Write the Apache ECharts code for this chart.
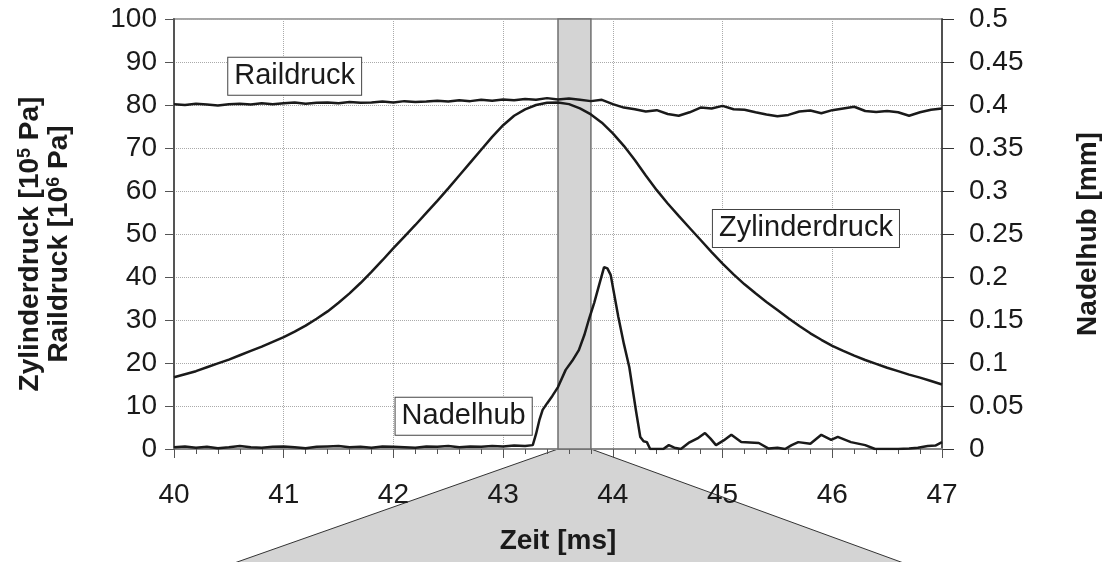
<!DOCTYPE html>
<html><head><meta charset="utf-8">
<script src="https://cdn.jsdelivr.net/npm/echarts@6/dist/echarts.min.js"></script>
<style>html,body{margin:0;padding:0;background:#fff}#c{width:1110px;height:562px}</style>
</head><body><div id="c"></div>
<script>
// ---- data ----
const sampleTime = [40.0,40.1,40.2,40.3,40.4,40.5,40.6,40.7,40.8,40.9,
  41.0,41.1,41.2,41.3,41.4,41.5,41.6,41.7,41.8,41.9,
  42.0,42.1,42.2,42.3,42.4,42.5,42.6,42.7,42.8,42.9,
  43.0,43.1,43.2,43.3,43.4,43.5,43.6,43.7,43.8,43.9,
  44.0,44.1,44.2,44.3,44.4,44.5,44.6,44.7,44.8,44.9,
  45.0,45.1,45.2,45.3,45.4,45.5,45.6,45.7,45.8,45.9,
  46.0,46.1,46.2,46.3,46.4,46.5,46.6,46.7,46.8,46.9,47.0];
const raildruck = [80.2,80.0,80.3,80.1,79.9,80.2,80.3,80.1,80.4,80.2,
  80.4,80.6,80.3,80.5,80.6,80.4,80.7,80.5,80.6,80.8,
  80.6,80.9,80.7,80.8,81.0,80.8,81.1,80.9,81.2,81.0,
  81.3,81.1,81.4,81.2,81.6,81.3,81.5,81.2,80.9,81.2,
  80.2,79.4,79.0,78.5,78.8,77.9,77.5,78.3,79.4,79.2,
  79.8,79.0,78.9,78.3,77.8,77.4,77.7,78.5,78.7,78.1,
  78.8,79.2,79.6,78.6,78.4,78.6,78.3,77.5,78.3,78.9,79.2];
const zylinderdruck = [16.7,17.4,18.1,19.0,19.9,20.8,21.8,22.8,23.8,24.9,
  26.0,27.3,28.7,30.3,32.0,34.0,36.2,38.6,41.2,43.9,
  46.7,49.4,52.1,54.9,57.7,60.6,63.6,66.6,69.6,72.6,
  75.3,77.5,79.0,80.0,80.5,80.6,80.2,79.2,77.8,75.9,
  73.4,70.5,67.2,63.6,60.2,57.1,54.2,51.4,48.6,45.8,
  43.1,40.6,38.3,36.2,34.2,32.3,30.4,28.6,26.9,25.4,
  24.0,22.8,21.7,20.7,19.8,18.9,18.1,17.3,16.6,15.8,15.0];
const nadelTime = [40.0,40.1,40.2,40.3,40.4,40.5,40.6,40.7,40.8,40.9,
  41.0,41.1,41.2,41.3,41.4,41.5,41.6,41.7,41.8,41.9,
  42.0,42.1,42.2,42.3,42.4,42.5,42.6,42.7,42.8,42.9,
  43.0,43.1,43.2,43.27,43.30,43.33,43.36,43.40,43.45,43.50,
  43.57,43.63,43.69,43.74,43.78,43.83,43.87,43.92,43.95,43.98,
  44.05,44.10,44.15,44.21,44.25,44.28,44.31,44.34,44.40,44.46,
  44.51,44.56,44.62,44.69,44.78,44.84,44.89,44.94,45.01,45.08,
  45.17,45.25,45.33,45.42,45.50,45.57,45.63,45.69,45.80,45.90,
  45.99,46.05,46.17,46.30,46.39,46.50,46.60,46.70,46.78,46.87,46.94,47.0];
const nadelhub = [0.002,0.003,0.0015,0.0025,0.001,0.002,0.0035,0.002,0.0015,0.0025,
  0.003,0.002,0.001,0.0025,0.003,0.0035,0.002,0.0025,0.0015,0.003,
  0.0025,0.002,0.0015,0.003,0.0025,0.0035,0.002,0.003,0.0025,0.0035,
  0.003,0.004,0.0035,0.0045,0.0175,0.0335,0.0455,0.053,0.062,0.072,
  0.092,0.1025,0.115,0.1325,0.15,0.17,0.1885,0.2115,0.21,0.2025,
  0.1535,0.1225,0.095,0.045,0.014,0.009,0.008,0,0,0,
  0.0045,0.0015,0,0.007,0.013,0.0185,0.012,0.0045,0.01,0.0165,
  0.008,0.0075,0.007,0.0005,0.0015,0,0.0045,0.008,0.006,0.0165,
  0.0105,0.014,0.008,0.0045,0,0,0,0.0005,0.0015,0.0035,0.004,0.008];
const bandRange = [43.5, 43.8];
const zoomSpread = [40.55, 46.65];
const curveLabels = [
  {name: 'Raildruck', t: 41.1, p: 86.7},
  {name: 'Zylinderdruck', t: 45.76, p: 51.3},
  {name: 'Nadelhub', t: 42.64, p: 7.6}
];

// ---- chart ----
const FONT = "'Liberation Sans', Arial, sans-serif";
const INK = '#1a1a1a';
const chart = echarts.init(document.getElementById('c'));
const pairs = (xs, ys) => xs.map((x, i) => [x, ys[i]]);
const lineStyle = {color: INK, width: 2.5};

chart.setOption({
  backgroundColor: '#ffffff',
  animation: false,
  textStyle: {fontFamily: FONT},
  grid: {left: 174, right: 166, top: 19, bottom: 113, show: true,
    borderColor: '#a6a6a6', borderWidth: 2, backgroundColor: 'transparent'},
  xAxis: {
    type: 'value', min: 40, max: 47, interval: 1,
    name: 'Zeit [ms]', nameLocation: 'middle', nameGap: 78, nameMoveOverlap: false,
    nameTextStyle: {fontFamily: FONT, fontSize: 28, fontWeight: 'bold', color: INK},
    axisLine: {lineStyle: {color: '#8a8a8a', width: 2}},
    axisTick: {show: true, length: 9, lineStyle: {color: '#555', width: 1}},
    minorTick: {show: true, splitNumber: 5, length: 5, lineStyle: {color: '#555', width: 1}},
    axisLabel: {fontFamily: FONT, fontSize: 28, color: INK, margin: 32},
    splitLine: {show: true, lineStyle: {color: '#aaaaaa', type: 'dotted', width: 1}}
  },
  yAxis: [{
    type: 'value', min: 0, max: 100, interval: 10, position: 'left',
    name: '{t|Zylinderdruck [10}{s|5}{t| Pa]}\n{t|Raildruck [10}{s|6}{t| Pa]}',
    nameLocation: 'middle', nameRotate: 90, nameGap: 100,
    nameTextStyle: {fontFamily: FONT, fontSize: 28, fontWeight: 'bold', color: INK, lineHeight: 29,
      padding: [0, 20, 0, 0],
      rich: {
        t: {fontFamily: FONT, fontSize: 28, fontWeight: 'bold', color: INK, lineHeight: 29},
        s: {fontFamily: FONT, fontSize: 18, fontWeight: 'bold', color: INK, lineHeight: 14, verticalAlign: 'top'}
      }},
    axisLine: {show: true, lineStyle: {color: '#555', width: 2}},
    axisTick: {show: true, length: 9, lineStyle: {color: '#555', width: 1}},
    axisLabel: {fontFamily: FONT, fontSize: 28, color: INK, margin: 17},
    splitLine: {show: true, lineStyle: {color: '#aaaaaa', type: 'dotted', width: 1}}
  }, {
    type: 'value', min: 0, max: 0.5, interval: 0.05, position: 'right',
    name: 'Nadelhub [mm]', nameLocation: 'middle', nameRotate: 90, nameGap: 132,
    nameTextStyle: {fontFamily: FONT, fontSize: 28, fontWeight: 'bold', color: INK},
    axisLine: {show: true, lineStyle: {color: '#333', width: 1.5}},
    axisTick: {show: true, length: 12, lineStyle: {color: '#333', width: 1}},
    axisLabel: {fontFamily: FONT, fontSize: 28, color: INK, margin: 27,
      formatter: v => String(Math.round(v * 100) / 100)},
    splitLine: {show: false}
  }],
  series: [{
    type: 'line', name: 'band', data: [], z: 1, silent: true,
    markArea: {silent: true,
      itemStyle: {color: '#d4d4d4', borderColor: '#6f6f6f', borderWidth: 1.5},
      data: [[{xAxis: bandRange[0]}, {xAxis: bandRange[1]}]]}
  }, {
    type: 'line', name: 'Raildruck', yAxisIndex: 0, z: 3,
    data: pairs(sampleTime, raildruck), showSymbol: false, lineStyle,
    markPoint: {
      symbol: 'rect', symbolSize: 1, itemStyle: {color: 'rgba(0,0,0,0)'}, z: 10,
      label: {show: true, position: 'inside', formatter: '{b}', fontFamily: FONT, fontSize: 29,
        color: INK, backgroundColor: '#fff', borderColor: '#444', borderWidth: 1,
        padding: [5, 6, 3, 6]},
      data: curveLabels.map(l => ({name: l.name, coord: [l.t, l.p]}))
    }
  }, {
    type: 'line', name: 'Zylinderdruck', yAxisIndex: 0, z: 3,
    data: pairs(sampleTime, zylinderdruck), showSymbol: false, lineStyle
  }, {
    type: 'line', name: 'Nadelhub', yAxisIndex: 1, z: 3,
    data: pairs(nadelTime, nadelhub), showSymbol: false, lineStyle
  }]
});

const yb = chart.convertToPixel({yAxisIndex: 0}, 0);
const xl = chart.convertToPixel({xAxisIndex: 0}, bandRange[0]);
const xr = chart.convertToPixel({xAxisIndex: 0}, bandRange[1]);
const xL = chart.convertToPixel({xAxisIndex: 0}, zoomSpread[0]);
const xR = chart.convertToPixel({xAxisIndex: 0}, zoomSpread[1]);
const H = chart.getHeight();
chart.setOption({graphic: [{
  type: 'polygon', z: -5, silent: true,
  shape: {points: [[xl, yb], [xr, yb], [xR, H + 1], [xL, H + 1]]},
  style: {fill: '#d4d4d4', stroke: '#333', lineWidth: 1}
}]});
</script></body></html>
